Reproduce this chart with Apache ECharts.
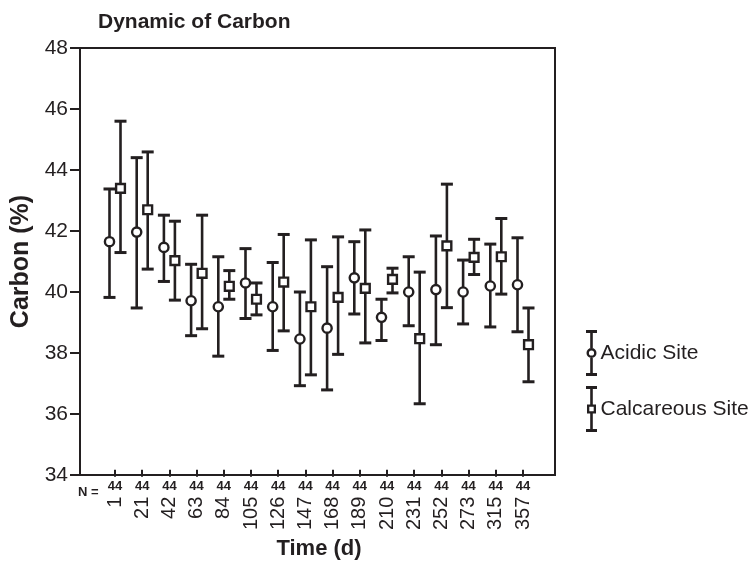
<!DOCTYPE html>
<html>
<head>
<meta charset="utf-8">
<script src="https://cdn.jsdelivr.net/npm/echarts@6/dist/echarts.min.js"></script>
<style>
  html, body { margin: 0; padding: 0; background: #fff; }
  #chart { width: 753px; height: 565px; }
</style>
</head>
<body>
<div id="chart"></div>
<script>
// sampling days and sample counts
var days = ['1', '21', '42', '63', '84', '105', '126', '147', '168', '189', '210', '231', '252', '273', '315', '357']
var counts = [44, 44, 44, 44, 44, 44, 44, 44, 44, 44, 44, 44, 44, 44, 44, 44]

// Acidic Site: mean and error bar ends
var acidicMean = [41.57, 41.89, 41.38, 39.61, 39.41, 40.20, 39.41, 38.34, 38.70, 40.37, 39.06, 39.90, 39.98, 39.90, 40.10, 40.14]
var acidicLow = [39.72, 39.37, 40.25, 38.45, 37.77, 39.02, 37.96, 36.79, 36.65, 39.17, 38.29, 38.78, 38.15, 38.84, 38.74, 38.58]
var acidicHigh = [43.32, 44.36, 42.45, 40.82, 41.07, 41.34, 40.88, 39.90, 40.74, 41.57, 39.66, 41.07, 41.76, 40.96, 41.49, 41.70]

// Calcareous Site
var calcMean = [43.34, 42.63, 40.94, 40.52, 40.09, 39.66, 40.23, 39.41, 39.72, 40.02, 40.32, 38.35, 41.43, 41.05, 41.07, 38.15]
var calcLow = [41.21, 40.66, 39.63, 38.68, 39.66, 39.14, 38.61, 37.15, 37.83, 38.21, 39.87, 36.19, 39.38, 40.48, 39.83, 36.92]
var calcHigh = [45.57, 44.55, 42.25, 42.45, 40.61, 40.20, 41.81, 41.63, 41.73, 41.96, 40.69, 40.56, 43.48, 41.65, 42.34, 39.37]

var yTicks = { min: 34, max: 48, step: 2 }

var ink = '#231f20'
var font = '"Liberation Sans", Arial, sans-serif'

// legend icons: I-beam with a ring / hollow square in the middle
var circleIcon = 'path://M0 0H11V3H0Z M4.2 3H6.8V18H4.2Z ' +
  'M10.5 23A5 5 0 1 1 0.5 23A5 5 0 1 1 10.5 23Z M8.1 23A2.6 2.6 0 1 0 2.9 23A2.6 2.6 0 1 0 8.1 23Z ' +
  'M4.2 28H6.8V43H4.2Z M0 43H11V46H0Z'
var squareIcon = 'path://M0 0H11V3H0Z M4.2 3H6.8V18.5H4.2Z ' +
  'M1 18.5H10V27.5H1Z M3.3 20.8V25.2H7.7V20.8Z ' +
  'M4.2 27.5H6.8V43H4.2Z M0 43H11V46H0Z'

function rows(mean, low, high) {
  return mean.map(function (m, i) { return [i, m, low[i], high[i]] })
}

function errorBar(offset, shape) {
  return function (params, api) {
    var i = api.value(0)
    var c = api.coord([i, api.value(1)])
    var lo = api.coord([i, api.value(2)])
    var hi = api.coord([i, api.value(3)])
    var x = c[0] + offset
    var cap = { stroke: ink, lineWidth: 3 }
    var marker = shape === 'circle'
      ? { type: 'circle', shape: { cx: x, cy: c[1], r: 4.6 }, style: { fill: '#fff', stroke: ink, lineWidth: 2.4 } }
      : { type: 'rect', shape: { x: x - 4.4, y: c[1] - 4.4, width: 8.8, height: 8.8 }, style: { fill: '#fff', stroke: ink, lineWidth: 2.4 } }
    return {
      type: 'group',
      children: [
        { type: 'line', shape: { x1: x, y1: hi[1], x2: x, y2: lo[1] }, style: { stroke: ink, lineWidth: 2.6 } },
        { type: 'line', shape: { x1: x - 6, y1: hi[1], x2: x + 6, y2: hi[1] }, style: cap },
        { type: 'line', shape: { x1: x - 6, y1: lo[1], x2: x + 6, y2: lo[1] }, style: cap },
        marker
      ]
    }
  }
}

var chart = echarts.init(document.getElementById('chart'))
chart.setOption({
  animation: false,
  textStyle: { fontFamily: font, color: ink },
  title: {
    text: 'Dynamic of Carbon',
    left: 93,
    top: 7,
    textStyle: { fontSize: 21, fontWeight: 'bold', color: ink, fontFamily: font }
  },
  legend: {
    orient: 'vertical',
    left: 581,
    top: 325,
    itemWidth: 12,
    itemHeight: 46,
    itemGap: 10,
    itemStyle: { borderWidth: 0 },
    textStyle: { fontSize: 21, color: ink, fontFamily: font, padding: [0, 0, 0, -2] },
    data: [
      { name: 'Acidic Site', icon: circleIcon },
      { name: 'Calcareous Site', icon: squareIcon }
    ]
  },
  grid: [
    // frame
    { left: 80, top: 48, width: 475, height: 427, show: true, borderColor: ink, borderWidth: 2, backgroundColor: 'transparent' },
    // data area, inset so the categories sit where the reference ticks are
    { left: 115, right: 230, top: 48, height: 427 }
  ],
  xAxis: [
    { gridIndex: 0, type: 'value', min: 0, max: 1, show: false },
    {
      gridIndex: 1,
      type: 'category',
      boundaryGap: false,
      data: days,
      axisLine: { show: false },
      axisTick: { show: true, length: 7, interval: 0, lineStyle: { color: ink, width: 2 } },
      axisLabel: {
        interval: 0,
        margin: 10,
        fontSize: 13,
        fontWeight: 'bold',
        color: ink,
        formatter: function (v, i) { return String(counts[i]) }
      },
      splitLine: { show: false }
    },
    {
      gridIndex: 1,
      type: 'category',
      position: 'bottom',
      boundaryGap: false,
      data: days,
      axisLine: { show: false },
      axisTick: { show: false },
      axisLabel: { interval: 0, rotate: 90, margin: 27, fontSize: 20, color: ink },
      name: 'Time (d)',
      nameLocation: 'middle',
      nameGap: 65,
      nameTextStyle: { fontSize: 22, fontWeight: 'bold', color: ink },
      splitLine: { show: false }
    }
  ],
  yAxis: [
    {
      gridIndex: 0,
      type: 'value',
      min: yTicks.min,
      max: yTicks.max,
      interval: yTicks.step,
      axisLine: { show: false },
      axisTick: { show: true, length: 10, lineStyle: { color: ink, width: 2 } },
      axisLabel: { fontSize: 21, margin: 12, color: ink },
      splitLine: { show: false },
      name: 'Carbon (%)',
      nameLocation: 'middle',
      nameGap: 43,
      nameTextStyle: { fontSize: 25, fontWeight: 'bold', color: ink }
    },
    { gridIndex: 1, type: 'value', min: yTicks.min, max: yTicks.max, show: false }
  ],
  graphic: [
    { type: 'text', left: 78, top: 486, style: { text: 'N =', fontSize: 13, fontWeight: 'bold', fill: ink, fontFamily: font } }
  ],
  series: [
    {
      name: 'Acidic Site',
      type: 'custom',
      xAxisIndex: 1,
      yAxisIndex: 1,
      itemStyle: { color: ink },
      encode: { x: 0, y: [1, 2, 3] },
      renderItem: errorBar(-5.5, 'circle'),
      data: rows(acidicMean, acidicLow, acidicHigh)
    },
    {
      name: 'Calcareous Site',
      type: 'custom',
      xAxisIndex: 1,
      yAxisIndex: 1,
      itemStyle: { color: ink },
      encode: { x: 0, y: [1, 2, 3] },
      renderItem: errorBar(5.5, 'square'),
      data: rows(calcMean, calcLow, calcHigh)
    }
  ]
})
</script>
</body>
</html>
